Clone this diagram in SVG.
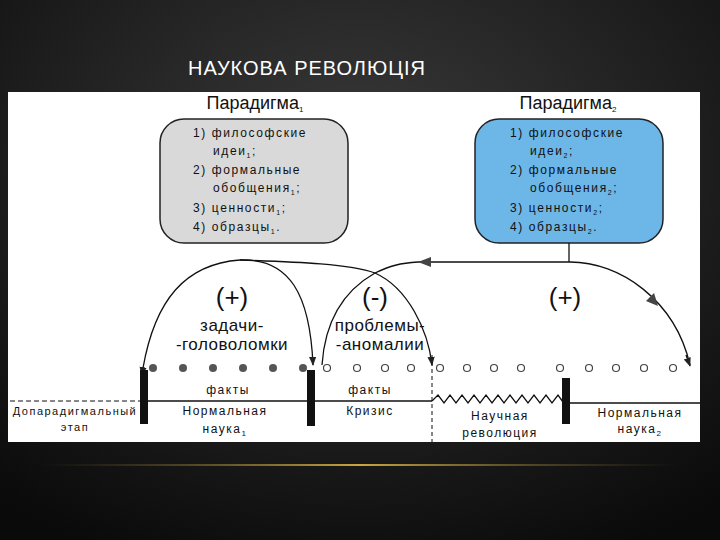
<svg xmlns="http://www.w3.org/2000/svg" width="720" height="540" viewBox="0 0 720 540">
<defs>
<radialGradient id="bg" cx="0.5" cy="0.3" r="0.8"><stop offset="0" stop-color="#3a3a3a"/><stop offset="1" stop-color="#0a0a0a"/></radialGradient>
<linearGradient id="glow" x1="0" x2="1"><stop offset="0" stop-color="#6b5a2a" stop-opacity="0"/><stop offset="0.5" stop-color="#c9a640"/><stop offset="1" stop-color="#6b5a2a" stop-opacity="0"/></linearGradient>
<marker id="ah" viewBox="0 0 10 10" refX="9" refY="5" markerWidth="7" markerHeight="7" orient="auto"><path d="M0,1 L10,5 L0,9 z" fill="#222"/></marker>
<marker id="ahs" viewBox="0 0 10 10" refX="1" refY="5" markerWidth="7" markerHeight="7" orient="auto-start-reverse"><path d="M0,1 L10,5 L0,9 z" fill="#222"/></marker>
</defs>
<style>
text{font-family:"Liberation Sans",Arial,sans-serif;fill:#111}
.bx{font-size:12px;letter-spacing:1.6px}
.lb{font-size:12px;letter-spacing:1.5px;text-anchor:middle}
.big{font-size:26px;text-anchor:middle}
.mid{font-size:17px;text-anchor:middle;letter-spacing:0.5px}
.ttl{font-size:18px;text-anchor:middle}
.ln{fill:none;stroke:#111;stroke-width:1.3}
.bar{fill:#111}
.fd{fill:#555}
.hc{fill:#fff;stroke:#444;stroke-width:1.2}
</style>
<rect width="720" height="540" fill="url(#bg)"/>
<text x="188" y="75" style="font-size:20px;fill:#fff;letter-spacing:1px">НАУКОВА РЕВОЛЮЦІЯ</text>
<rect x="40" y="464" width="640" height="2" fill="url(#glow)"/>
<rect x="8" y="92" width="692" height="350" fill="#fff"/>

<g id="paradigm1">
<text class="ttl" x="255" y="109">Парадигма<tspan font-size="8" dy="3">1</tspan></text>
<rect x="160" y="119" width="188" height="124" rx="24" fill="#d9d9d9" stroke="#222" stroke-width="1.5"/>
<text class="bx" x="193" y="137">1) философские</text>
<text class="bx" x="213" y="155">идеи<tspan font-size="7" dy="3">1</tspan><tspan dy="-3">;</tspan></text>
<text class="bx" x="193" y="174">2) формальные</text>
<text class="bx" x="213" y="192">обобщения<tspan font-size="7" dy="3">1</tspan><tspan dy="-3">;</tspan></text>
<text class="bx" x="193" y="212">3) ценности<tspan font-size="7" dy="3">1</tspan><tspan dy="-3">;</tspan></text>
<text class="bx" x="193" y="231">4) образцы<tspan font-size="7" dy="3">1</tspan><tspan dy="-3">.</tspan></text>
</g>
<g id="paradigm2">
<text class="ttl" x="568" y="109">Парадигма<tspan font-size="8" dy="3">2</tspan></text>
<rect x="475" y="119" width="188" height="124" rx="24" fill="#6cb6e8" stroke="#222" stroke-width="1.5"/>
<text class="bx" x="510" y="137">1) философские</text>
<text class="bx" x="530" y="155">идеи<tspan font-size="7" dy="3">2</tspan><tspan dy="-3">;</tspan></text>
<text class="bx" x="510" y="174">2) формальные</text>
<text class="bx" x="530" y="192">обобщения<tspan font-size="7" dy="3">2</tspan><tspan dy="-3">;</tspan></text>
<text class="bx" x="510" y="212">3) ценности<tspan font-size="7" dy="3">2</tspan><tspan dy="-3">;</tspan></text>
<text class="bx" x="510" y="231">4) образцы<tspan font-size="7" dy="3">2</tspan><tspan dy="-3">.</tspan></text>
</g>

<g id="connectors">
<path class="ln" d="M569,243 V262"/>
<path class="ln" marker-start="url(#ahs)" marker-end="url(#ah)" d="M143,368 C155,300 185,264 240,260 C290,258 310,295 313,365"/>
<path class="ln" marker-end="url(#ah)" d="M240,260 C300,262 350,264 375,273 C408,288 428,330 432,365"/>
<path class="ln" d="M322,365 C325,320 345,290 375,273 C390,266 400,263 418,262"/>
<path class="ln" d="M418,262 L570,262 C620,262 675,300 690,365"/>
<path d="M418,262 L431,257 L431,267 z" fill="#444"/>
<path d="M658,306 L646,301 L654,293 z" fill="#444"/>
<path class="ln" marker-end="url(#ah)" d="M686,355 L690,366"/>
</g>

<g id="labels">
<text class="big" x="232" y="306">(+)</text>
<text class="mid" x="232" y="331">задачи-</text>
<text class="mid" x="232" y="350">-головоломки</text>
<text class="big" x="375" y="306">(-)</text>
<text class="mid" x="380" y="331">проблемы-</text>
<text class="mid" x="380" y="350">-аномалии</text>
<text class="big" x="565" y="306">(+)</text>
</g>

<g id="facts">
<circle class="fd" cx="153" cy="368" r="4"/><circle class="fd" cx="183" cy="368" r="4"/><circle class="fd" cx="213" cy="368" r="4"/><circle class="fd" cx="243" cy="368" r="4"/><circle class="fd" cx="273" cy="368" r="4"/><circle class="fd" cx="303" cy="368" r="4"/>
<circle class="hc" cx="327" cy="368" r="3.5"/><circle class="hc" cx="357" cy="368" r="3.5"/><circle class="hc" cx="385" cy="368" r="3.5"/><circle class="hc" cx="411" cy="368" r="3.5"/>
<circle class="hc" cx="440" cy="368" r="3.5"/><circle class="hc" cx="467" cy="368" r="3.5"/><circle class="hc" cx="494" cy="368" r="3.5"/><circle class="hc" cx="521" cy="368" r="3.5"/><circle class="hc" cx="560" cy="368" r="3.5"/><circle class="hc" cx="589" cy="368" r="3.5"/><circle class="hc" cx="616" cy="368" r="3.5"/><circle class="hc" cx="644" cy="368" r="3.5"/><circle class="hc" cx="673" cy="368" r="3.5"/>
<text class="lb" x="228" y="394">факты</text>
<text class="lb" x="370" y="394">факты</text>
</g>

<g id="timeline">
<path d="M10,401 H140" stroke="#111" stroke-width="1" stroke-dasharray="5,3"/>
<path d="M140,401 H432" stroke="#111" stroke-width="1.3"/>
<path class="ln" d="M432,401 l6,-6 l6,8 l6,-8 l6,8 l6,-8 l6,8 l6,-8 l6,8 l6,-8 l6,8 l6,-8 l6,8 l6,-8 l6,8 l6,-8 l6,8 l6,-8 l6,8 l6,-8 l6,8 l6,-8 l5,7"/>
<path d="M570,403 H700" stroke="#111" stroke-width="1.5"/>
<path d="M432,355 V442" stroke="#111" stroke-width="1" stroke-dasharray="4,3"/>
<rect class="bar" x="140" y="370" width="8" height="54"/>
<rect class="bar" x="307" y="370" width="8" height="56"/>
<rect class="bar" x="562" y="378" width="8" height="46"/>
</g>

<g id="stages">
<text class="lb" x="75" y="415" style="font-size:11px">Допарадигмальный</text>
<text class="lb" x="75" y="431" style="font-size:11px">этап</text>
<text class="lb" x="225" y="415">Нормальная</text>
<text class="lb" x="225" y="433">наука<tspan font-size="8" dy="3">1</tspan></text>
<text class="lb" x="370" y="415">Кризис</text>
<text class="lb" x="500" y="420">Научная</text>
<text class="lb" x="500" y="437">революция</text>
<text class="lb" x="640" y="417">Нормальная</text>
<text class="lb" x="640" y="433">наука<tspan font-size="8" dy="3">2</tspan></text>
</g>
</svg>
